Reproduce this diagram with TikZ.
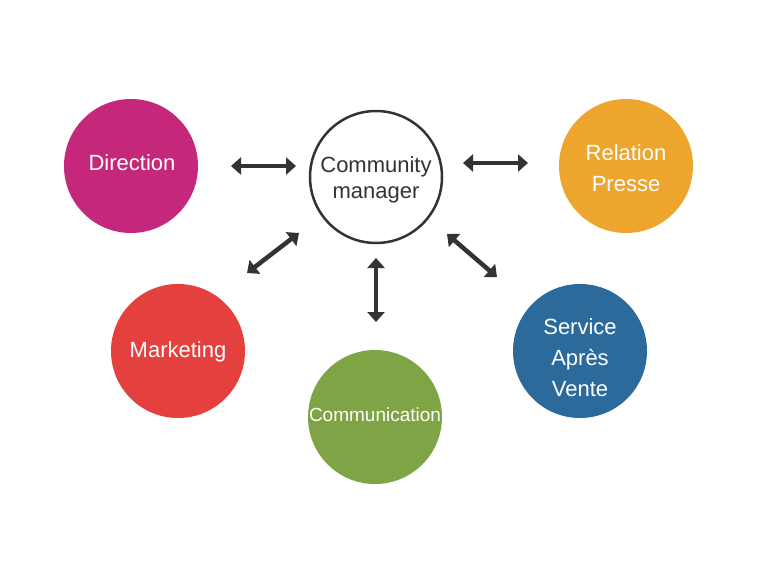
\documentclass[tikz,border=0pt]{standalone}
\usepackage{fontspec}
\setmainfont{Liberation Sans}
\usetikzlibrary{arrows.meta}
\definecolor{cdir}{HTML}{C5287B}
\definecolor{crel}{HTML}{EDA52D}
\definecolor{cmkt}{HTML}{E3403E}
\definecolor{csav}{HTML}{2C6A9B}
\definecolor{ccom}{HTML}{7FA445}
\definecolor{cdark}{HTML}{333333}
\begin{document}
\begin{tikzpicture}[x=1pt,y=-1pt,
  bubble/.style={circle,minimum size=134pt,inner sep=0pt},
  lbl/.style={text=white,align=center,inner sep=0pt,font=\fontsize{22}{31}\selectfont},
  link/.style={draw=cdark,line width=4.5pt,{Triangle[length=10pt,width=17pt]}-{Triangle[length=10pt,width=17pt]}}]
\useasboundingbox[fill=white] (0,0) rectangle (768,576);
\node[bubble,fill=cdir] (dir) at (131,166) {};
\node[bubble,fill=crel] (rel) at (626,166) {};
\node[bubble,fill=cmkt] (mkt) at (178,351) {};
\node[bubble,fill=csav] (sav) at (580,351) {};
\node[bubble,fill=ccom] (com) at (375,417) {};
\node[bubble,draw=cdark,line width=2.5pt,fill=white,minimum size=132pt] (cm) at (376,177) {};
\node[lbl] (tdir) at (132,163) {Direction};
\node[lbl] (trel) at (626,168) {Relation\\Presse};
\node[lbl] (tmkt) at (178,352) {Marketing};
\node[lbl] (tsav) at (580,358) {Service\\Après\\Vente};
\node[lbl,font=\fontsize{19}{22}\selectfont] (tcom) at (375,415) {Communication};
\node[lbl,text=cdark,font=\fontsize{22}{26}\selectfont] (tcm) at (376,179.5) {Community\\manager};
\coordinate (a1) at (231,166); \coordinate (a2) at (296,166);
\coordinate (b1) at (463,163); \coordinate (b2) at (528,163);
\coordinate (c1) at (247,273); \coordinate (c2) at (299,233);
\coordinate (d1) at (376,258); \coordinate (d2) at (376,322);
\coordinate (e1) at (447,234); \coordinate (e2) at (497,277);
\draw[link] (a1) -- (a2);
\draw[link] (b1) -- (b2);
\draw[link] (c1) -- (c2);
\draw[link] (d1) -- (d2);
\draw[link] (e1) -- (e2);
\end{tikzpicture}
\end{document}
